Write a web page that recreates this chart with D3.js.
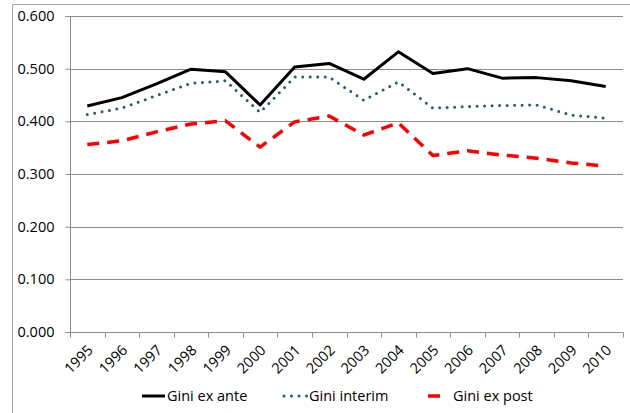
<!DOCTYPE html>
<html>
<head>
<meta charset="utf-8">
<script src="https://cdn.jsdelivr.net/npm/d3@7"></script>
<style>
  body { margin: 0; background: #fff; }
  text { font-family: "Open Sans", sans-serif; fill: #000; }
</style>
</head>
<body>
<div id="chart"></div>
<script>
// data
var years = ["1995", "1996", "1997", "1998", "1999", "2000", "2001", "2002",
             "2003", "2004", "2005", "2006", "2007", "2008", "2009", "2010"];
var giniExAnte  = [0.429, 0.445, 0.471, 0.499, 0.494, 0.431, 0.503, 0.510,
                   0.480, 0.532, 0.491, 0.500, 0.482, 0.483, 0.477, 0.466];
var giniInterim = [0.413, 0.425, 0.449, 0.472, 0.477, 0.417, 0.484, 0.484,
                   0.440, 0.475, 0.425, 0.428, 0.430, 0.431, 0.412, 0.406];
var giniExPost  = [0.356, 0.363, 0.380, 0.395, 0.401, 0.351, 0.399, 0.410,
                   0.374, 0.397, 0.335, 0.344, 0.336, 0.330, 0.321, 0.315];
var yTicks = [0, 0.1, 0.2, 0.3, 0.4, 0.5, 0.6];

var svgWidth = 630;
var svgHeight = 413;

var margin = { top: 16, right: 7, bottom: 81, left: 70 };
var width = svgWidth - margin.left - margin.right;
var height = svgHeight - margin.top - margin.bottom;

var svg = d3.select("#chart")
    .append("svg")
    .attr("width", svgWidth)
    .attr("height", svgHeight);

// chart frame (left and top edges visible)
svg.append("line")
    .attr("x1", 12.5).attr("x2", 12.5)
    .attr("y1", 4.5).attr("y2", svgHeight)
    .attr("stroke", "#a6a6a6");
svg.append("line")
    .attr("x1", 12.5).attr("x2", svgWidth)
    .attr("y1", 4.5).attr("y2", 4.5)
    .attr("stroke", "#a6a6a6");

var chartGroup = svg.append("g")
    .attr("transform", `translate(${margin.left}, ${margin.top})`);

var xScale = d3.scaleBand()
    .domain(years)
    .range([0, width]);

var yScale = d3.scaleLinear()
    .domain([0, 0.6])
    .range([height, 0]);

// gridlines
chartGroup.selectAll(".grid")
    .data(yTicks.slice(1))
    .enter()
    .append("line")
    .attr("x1", 0)
    .attr("x2", width)
    .attr("y1", d => Math.round(yScale(d)) + 0.5)
    .attr("y2", d => Math.round(yScale(d)) + 0.5)
    .attr("stroke", "#8c8c8c")
    .attr("stroke-width", 1);

// y axis
var leftAxis = d3.axisLeft(yScale)
    .tickValues(yTicks)
    .tickFormat(d3.format(".3f"))
    .tickSize(5);

var yAxis = chartGroup.append("g")
    .attr("transform", "translate(0.5, 0)")
    .call(leftAxis);
yAxis.select(".domain").attr("stroke", "#8c8c8c").attr("d", `M-5,0.5H0V${height}`);
yAxis.selectAll(".tick line").attr("stroke", "#8c8c8c");
yAxis.selectAll(".tick text")
    .attr("x", -16)
    .style("font-size", "14.5px")
    .style("font-family", "Open Sans, sans-serif");

// x axis, ticks on band edges
var edges = years.map(d => xScale(d)).concat([width]);
var xAxisG = chartGroup.append("g")
    .attr("transform", `translate(0, ${Math.round(height) + 0.5})`);
xAxisG.append("line")
    .attr("x1", 0).attr("x2", width)
    .attr("stroke", "#8c8c8c");
xAxisG.selectAll(".xtick")
    .data(edges)
    .enter()
    .append("line")
    .attr("x1", d => Math.round(d) + 0.5)
    .attr("x2", d => Math.round(d) + 0.5)
    .attr("y1", 0)
    .attr("y2", 5)
    .attr("stroke", "#8c8c8c");
xAxisG.selectAll(".xlabel")
    .data(years)
    .enter()
    .append("text")
    .attr("transform", d => `translate(${xScale(d) + xScale.bandwidth() / 2 + 3}, 15) rotate(-45)`)
    .attr("text-anchor", "end")
    .attr("dy", "0.35em")
    .style("font-size", "14.5px")
    .text(d => d);

// series
var series = [
    { name: "Gini ex ante", values: giniExAnte, color: "#000000", width: 3, dash: null, cap: "butt" },
    { name: "Gini interim", values: giniInterim, color: "#215f6e", width: 3, dash: "0,7.5", cap: "round" },
    { name: "Gini ex post", values: giniExPost, color: "#ff0000", width: 3.5, dash: "12,8", cap: "butt" }
];

var line = d3.line()
    .x((d, i) => xScale(years[i]) + xScale.bandwidth() / 2)
    .y(d => yScale(d));

series.slice().reverse().forEach(function(s) {
    chartGroup.append("path")
        .datum(s.values)
        .attr("fill", "none")
        .attr("stroke", s.color)
        .attr("stroke-width", s.width)
        .attr("stroke-linejoin", "round")
        .attr("stroke-linecap", s.cap)
        .attr("stroke-dasharray", s.dash)
        .attr("d", line);
});

// legend
var legendX = [142, 284, 428];
var legendLen = [23, 23, 12];
var legend = svg.append("g")
    .attr("transform", "translate(0, 396)");
series.forEach(function(s, i) {
    legend.append("line")
        .attr("x1", legendX[i])
        .attr("x2", legendX[i] + legendLen[i])
        .attr("y1", 0).attr("y2", 0)
        .attr("stroke", s.color)
        .attr("stroke-width", s.width)
        .attr("stroke-linecap", s.cap)
        .attr("stroke-dasharray", i === 1 ? "0,7.5" : null);
    legend.append("text")
        .attr("x", i === 2 ? legendX[i] + 25 : legendX[i] + legendLen[i] + 2)
        .attr("dy", "0.35em")
        .style("font-size", "14.5px")
        .text(s.name);
});
</script>
</body>
</html>
